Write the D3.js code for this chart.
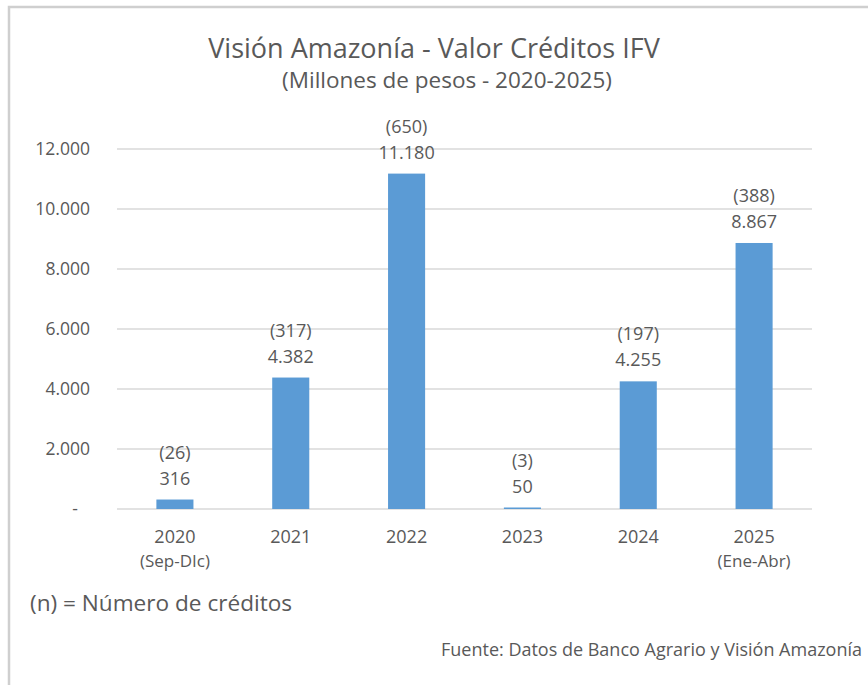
<html>
<script src='https://d3js.org/d3.v7.min.js'></script>
<style>
body {margin: 0; background: white;}
text {font-family: 'Open Sans', sans-serif; fill: #595959;}
</style>
<body>
<svg width=868 height=685></svg>
<script>
// datos
var years = ["2020", "2021", "2022", "2023", "2024", "2025"];
var subLabels = ["(Sep-DIc)", "", "", "", "", "(Ene-Abr)"];
var values = [316, 4382, 11180, 50, 4255, 8867];
var counts = [26, 317, 650, 3, 197, 388];
var yTicks = [0, 2000, 4000, 6000, 8000, 10000, 12000];

var svg = d3.select("svg");
var mLeft = 117, mRight = 812, mTop = 149, mBottom = 509;

// marco
svg.append("path")
   .attr("d", "M9,685 V7 H868")
   .attr("fill", "none")
   .attr("stroke", "#cfcfcf")
   .attr("stroke-width", 2.5);

var x = d3.scaleBand().domain(years).range([mLeft, mRight]).paddingInner(0.68).paddingOuter(0.34);
var y = d3.scaleLinear().domain([0, 12000]).range([mBottom, mTop]);

var fmt = function(v) { return v == 0 ? "-" : d3.format(",")(v).replace(/,/g, "."); };

// lineas de cuadricula
svg.append("g").selectAll("line")
   .data(yTicks)
   .enter()
   .append("line")
    .attr("x1", mLeft).attr("x2", mRight)
    .attr("y1", function(d) {return y(d);})
    .attr("y2", function(d) {return y(d);})
    .attr("stroke", "#d9d9d9")
    .attr("stroke-width", 1.3);

var yAxis = svg.append("g")
   .attr("transform", "translate(" + (mLeft - 24) + ",0)")
   .call(d3.axisLeft(y).tickValues(yTicks).tickFormat(fmt).tickSize(0));
yAxis.select(".domain").remove();
yAxis.selectAll("text")
   .style("font-size", "17.5px")
   .style("font-family", "'Open Sans', sans-serif")
   .attr("fill", "#595959")
   .attr("dx", function(d) {return d == 0 ? "-12px" : 0;});

svg.append("g").selectAll("rect")
   .data(values)
   .enter()
   .append("rect")
    .attr("x", function(d, i) {return x(years[i]);})
    .attr("y", function(d) {return y(d);})
    .attr("width", x.bandwidth())
    .attr("height", function(d) {return y(0) - y(d);})
    .attr("fill", "#5b9bd5");

var labels = svg.append("g").selectAll("g")
   .data(values)
   .enter()
   .append("g")
    .attr("transform", function(d, i) {return "translate(" + (x(years[i]) + x.bandwidth() / 2) + "," + y(d) + ")";});
labels.append("text")
   .attr("y", -15)
   .style("text-anchor", "middle")
   .style("font-size", "18px")
   .text(function(d) {return fmt(d);});
labels.append("text")
   .attr("y", -41)
   .style("text-anchor", "middle")
   .style("font-size", "18px")
   .text(function(d, i) {return "(" + counts[i] + ")";});

// eje x
var xl = svg.append("g").selectAll("g")
   .data(years)
   .enter()
   .append("g")
    .attr("transform", function(d) {return "translate(" + (x(d) + x.bandwidth() / 2) + ",0)";});
xl.append("text")
   .attr("y", 543)
   .style("text-anchor", "middle")
   .style("font-size", "18px")
   .text(function(d) {return d;});
xl.append("text")
   .attr("y", 567)
   .style("text-anchor", "middle")
   .style("font-size", "17px")
   .text(function(d, i) {return subLabels[i];});

svg.append("text")
   .attr("x", 434).attr("y", 58)
   .style("text-anchor", "middle")
   .style("font-size", "27px")
   .text("Visión Amazonía - Valor Créditos IFV");
svg.append("text")
   .attr("x", 447).attr("y", 88)
   .style("text-anchor", "middle")
   .style("font-size", "22.5px")
   .text("(Millones de pesos - 2020-2025)");

svg.append("text")
   .attr("x", 30).attr("y", 611)
   .style("font-size", "22.6px")
   .text("(n) = Número de créditos");
svg.append("text")
   .attr("x", 862).attr("y", 656)
   .style("text-anchor", "end")
   .style("font-size", "18px")
   .text("Fuente: Datos de Banco Agrario y Visión Amazonía");
</script>
</body>
</html>
